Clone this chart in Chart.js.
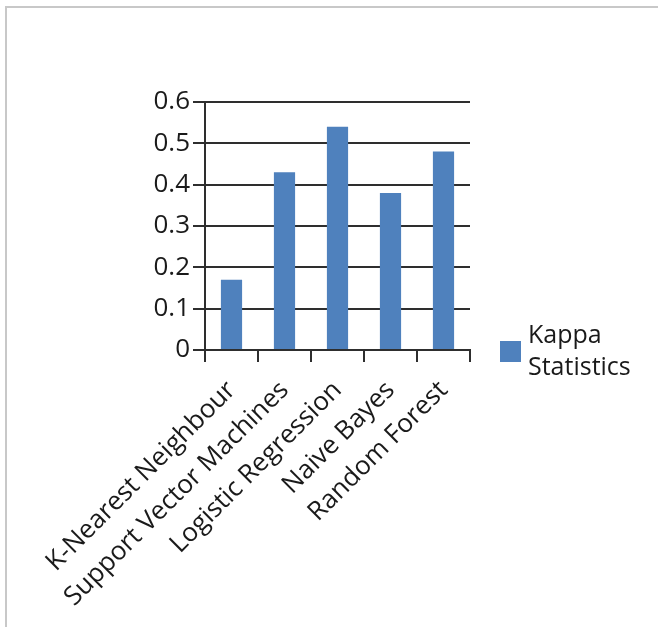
<!DOCTYPE html>
<html>
<head>
<meta charset="utf-8">
<script src="https://cdn.jsdelivr.net/npm/chart.js@4/dist/chart.umd.min.js"></script>
<style>
  html, body { margin: 0; padding: 0; background: #fff; }
  #wrap { position: relative; width: 658px; height: 627px; overflow: hidden; }
  #frame { position: absolute; left: 5px; top: 6px; width: 700px; height: 700px;
           border-left: 2px solid #c8c8c8; border-top: 2px solid #c8c8c8; }
  canvas { position: absolute; left: 0; top: 0; }
</style>
</head>
<body>
<div id="wrap">
  <div id="frame"></div>
  <canvas id="kappaChart" width="658" height="627"></canvas>
</div>
<script>
// values
const models = ['K-Nearest Neighbour', 'Support Vector Machines', 'Logistic Regression', 'Naive Bayes', 'Random Forest'];
const kappa = [0.17, 0.43, 0.54, 0.38, 0.48];
const yTicks = [0, 0.1, 0.2, 0.3, 0.4, 0.5, 0.6];

const barColor = '#4f81bd';
const inkColor = '#1a1a1a';
const lineColor = '#2e2e2e';
const fontFamily = '"Open Sans", sans-serif';

// legend with the label split over two lines, like the original
const sideLegend = {
  id: 'sideLegend',
  afterDraw(chart) {
    const ctx = chart.ctx;
    const ds = chart.data.datasets[0];
    const words = ds.label.split(' ');
    ctx.save();
    ctx.fillStyle = ds.backgroundColor;
    ctx.fillRect(500, 341, 21, 21);
    ctx.fillStyle = inkColor;
    ctx.font = '25px ' + fontFamily;
    ctx.textBaseline = 'alphabetic';
    ctx.textAlign = 'left';
    words.forEach((w, i) => ctx.fillText(w, 528, 343 + i * 32));
    ctx.restore();
  }
};

Chart.defaults.font.family = fontFamily;
Chart.defaults.font.size = 26;
Chart.defaults.color = inkColor;

new Chart(document.getElementById('kappaChart').getContext('2d'), {
  type: 'bar',
  data: {
    labels: models,
    datasets: [{
      label: 'Kappa Statistics',
      data: kappa,
      backgroundColor: barColor,
      borderWidth: 0,
      barPercentage: 0.4,
      categoryPercentage: 1.0
    }]
  },
  options: {
    responsive: false,
    animation: false,
    layout: { padding: { left: 0, top: 102, right: 188, bottom: 0 } },
    plugins: {
      legend: { display: false },
      tooltip: { enabled: false }
    },
    scales: {
      x: {
        afterFit: s => { s.height = 277; },
        grid: { drawOnChartArea: false, drawTicks: true, tickLength: 12, color: lineColor, lineWidth: 2 },
        border: { display: true, color: lineColor, width: 2 },
        ticks: { maxRotation: 45, minRotation: 45, padding: 13, color: inkColor }
      },
      y: {
        min: 0,
        max: 0.6,
        afterFit: s => { s.width = 205; },
        afterBuildTicks: s => { s.ticks = yTicks.map(v => ({ value: v })); },
        grid: { color: lineColor, lineWidth: 2, tickLength: 12 },
        border: { display: true, color: lineColor, width: 2 },
        ticks: { padding: 3, color: inkColor, callback: v => String(v) }
      }
    }
  },
  plugins: [sideLegend]
});
</script>
</body>
</html>
